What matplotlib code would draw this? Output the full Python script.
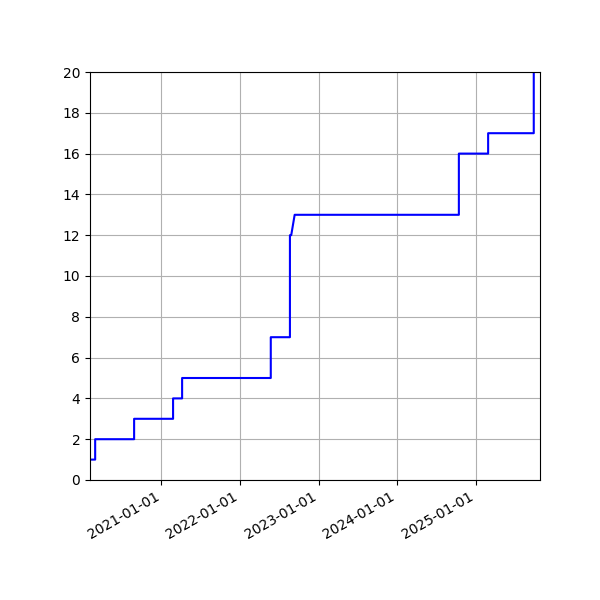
import pandas as pd
import matplotlib
matplotlib.use('Agg')
import matplotlib.pyplot as plt
import matplotlib.dates as mdates

# vertices of the cumulative count line (date, count)
dates = ['2020-02-04', '2020-02-28', '2020-02-28', '2020-08-27', '2020-08-27',
         '2021-02-24', '2021-02-24', '2021-04-07', '2021-04-07', '2022-05-24',
         '2022-05-24', '2022-08-21', '2022-08-21', '2022-08-27', '2022-09-12',
         '2024-10-14', '2024-10-14', '2025-02-27', '2025-02-27', '2025-09-27',
         '2025-09-27']
counts = [1, 1, 2, 2, 3,
          3, 4, 4, 5, 5,
          7, 7, 12, 12, 13,
          13, 16, 16, 17, 17,
          20]

x_start = '2020-02-04'
x_end = '2025-10-26'

x = pd.to_datetime(dates)

fig, ax = plt.subplots(figsize=(6, 6), dpi=100)
ax.plot(x, counts, color='blue')
ax.set_xlim(pd.Timestamp(x_start), pd.Timestamp(x_end))
ax.set_ylim(0, 20)
ax.set_yticks(range(0, 21, 2))
ax.xaxis.set_major_locator(mdates.YearLocator())
ax.xaxis.set_major_formatter(mdates.DateFormatter('%Y-%m-%d'))
ax.grid(True)
fig.autofmt_xdate()
fig.subplots_adjust(left=0.15, right=0.9, top=0.88, bottom=0.2)

plt.savefig('out.png', dpi=100)
